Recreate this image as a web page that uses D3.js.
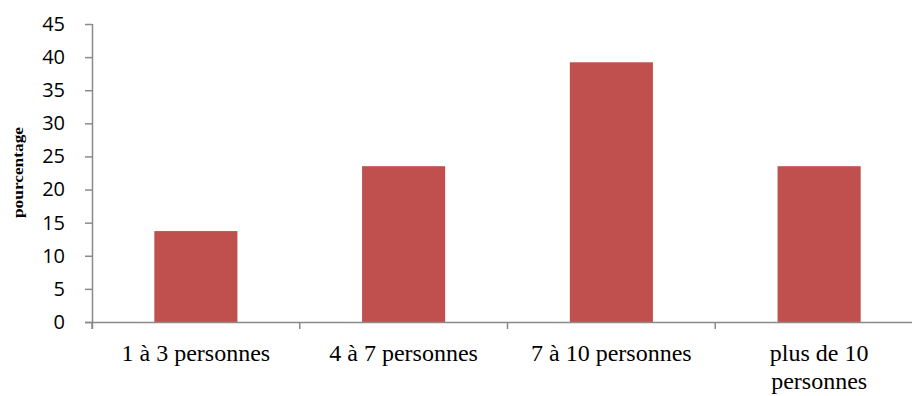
<!DOCTYPE html>
<html>
<head>
<meta charset="utf-8">
<script src="https://cdn.jsdelivr.net/npm/d3@7"></script>
<style>
  html, body { margin: 0; padding: 0; background: #fff; }
  svg { display: block; }
</style>
</head>
<body>
<svg id="chart" width="912" height="396"></svg>
<script>
// Share of households by size (percentage)
const categories = ["1 à 3 personnes", "4 à 7 personnes", "7 à 10 personnes", "plus de 10 personnes"];
const values = [13.73, 23.53, 39.22, 23.53];
const yTicks = [0, 5, 10, 15, 20, 25, 30, 35, 40, 45];
const yTitle = "pourcentage";

const svg = d3.select("#chart");
const plot = { left: 92, right: 923, top: 24, bottom: 322 };
const axisColor = "#8a8a8a";
const barColor = "#c0504d";
const serif = "'Liberation Serif', 'Times New Roman', serif";
const labelSize = 24;
const lineGap = 27.5;

const x = d3.scaleBand().domain(categories).range([plot.left, plot.right]).padding(0);
const y = d3.scaleLinear().domain([0, 45]).range([plot.bottom, plot.top]);
const barW = x.step() * 0.4;

// Bars
svg.append("g").selectAll("rect")
  .data(categories.map((c, i) => ({ c, v: values[i] })))
  .join("rect")
  .attr("x", d => x(d.c) + x.bandwidth() / 2 - barW / 2)
  .attr("y", d => y(d.v))
  .attr("width", barW)
  .attr("height", d => y(0) - y(d.v))
  .attr("fill", barColor);

// Y axis
const yAxis = svg.append("g")
  .attr("transform", `translate(${plot.left},0)`)
  .call(d3.axisLeft(y).tickValues(yTicks).tickSize(7).tickPadding(20).tickFormat(d3.format("d")));
yAxis.select(".domain").attr("stroke", axisColor).attr("stroke-width", 1.5)
  .attr("d", `M0.5,${plot.top}V${plot.bottom + 7}`);
yAxis.selectAll(".tick line").attr("stroke", axisColor).attr("stroke-width", 1.5);
yAxis.selectAll(".tick text")
  .attr("x", -27)
  .attr("fill", "#000")
  .style("font-family", "'Open Sans', 'Liberation Sans', sans-serif")
  .style("font-size", "20px");

// X axis line with ticks at category boundaries
const xAxis = svg.append("g").attr("transform", `translate(0,${plot.bottom})`);
xAxis.append("line")
  .attr("x1", plot.left - 7).attr("x2", plot.right)
  .attr("y1", 0.5).attr("y2", 0.5)
  .attr("stroke", axisColor).attr("stroke-width", 1.5);
const bounds = categories.map(c => x(c)).concat([x(categories[categories.length - 1]) + x.step()]);
xAxis.selectAll("line.tk")
  .data(bounds)
  .join("line")
  .attr("class", "tk")
  .attr("x1", d => d).attr("x2", d => d)
  .attr("y1", 0).attr("y2", 7)
  .attr("stroke", axisColor).attr("stroke-width", 1.5);

// Category labels, wrapped to the band width
const labels = xAxis.selectAll("g.lbl")
  .data(categories)
  .join("g")
  .attr("class", "lbl")
  .attr("transform", d => `translate(${x(d) + x.bandwidth() / 2},39)`);
labels.each(function (d) {
  const g = d3.select(this);
  const maxW = x.step() * 0.95;
  const words = d.split(" ");
  const lines = [];
  let cur = [];
  const probe = g.append("text")
    .style("font-family", serif)
    .style("font-size", labelSize + "px");
  words.forEach(w => {
    const trial = cur.concat([w]).join(" ");
    probe.text(trial);
    if (probe.node().getComputedTextLength() > maxW && cur.length) {
      lines.push(cur.join(" "));
      cur = [w];
    } else {
      cur.push(w);
    }
  });
  lines.push(cur.join(" "));
  probe.remove();
  lines.forEach((ln, i) => {
    g.append("text")
      .attr("text-anchor", "middle")
      .attr("y", i * lineGap)
      .attr("fill", "#000")
      .style("font-family", serif)
      .style("font-size", labelSize + "px")
      .text(ln);
  });
});

// Y axis title
svg.append("text")
  .attr("transform", `translate(23,172.5) rotate(-90)`)
  .attr("text-anchor", "middle")
  .attr("fill", "#000")
  .attr("textLength", 91)
  .attr("lengthAdjust", "spacingAndGlyphs")
  .style("font-family", serif)
  .style("font-weight", "bold")
  .style("font-size", "15px")
  .text(yTitle);
</script>
</body>
</html>
